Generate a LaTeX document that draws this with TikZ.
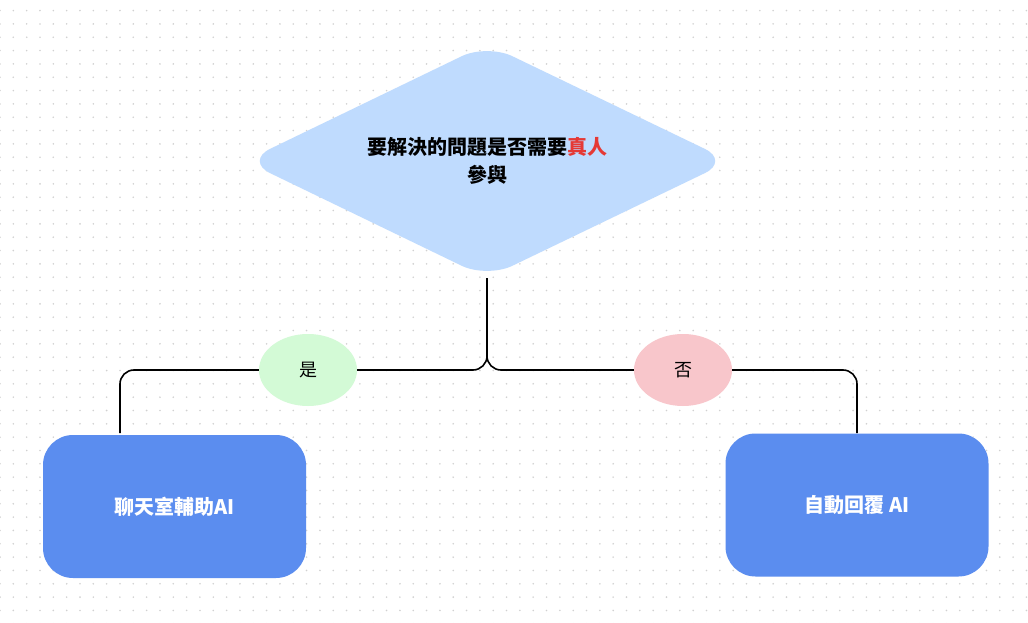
\documentclass[tikz,border=0pt]{standalone}
\usepackage{fontspec}
\newfontfamily\cjk{Noto Sans CJK TC}
\usetikzlibrary{shapes.geometric}
\definecolor{dia}{HTML}{BFDBFE}
\definecolor{boxc}{HTML}{5B8DEF}
\definecolor{yes}{HTML}{D3FAD6}
\definecolor{no}{HTML}{F8C6CB}
\definecolor{redt}{HTML}{E53935}
\tikzset{
 lbl/.style={ellipse,minimum width=98pt,minimum height=72pt,inner sep=0pt,font=\cjk\fontsize{18}{20}\selectfont},
 ai/.style={draw=none,fill=boxc,rounded corners=30pt,minimum width=263pt,minimum height=143pt,text=white,font=\cjk\bfseries\fontsize{20}{24}\selectfont},
 conn/.style={line width=1.6pt,rounded corners=14pt}
}
\begin{document}
\begin{tikzpicture}[x=1pt,y=-1pt]
\useasboundingbox (0,0) rectangle (1028,623);
\fill[white] (0,0) rectangle (1028,623);
\foreach \i in {0,...,77}{\foreach \j in {0,...,46}{
 \fill[black!18] ({\i*13.33},{10.6+\j*13.33}) circle (0.9pt);}}
\fill[dia,rounded corners=28pt] (245,161) -- (487,44) -- (730,161) -- (487,278) -- cycle;
\node[inner sep=0pt,align=center,font=\cjk\bfseries\fontsize{20}{28}\selectfont] (q) at (487,161) {要解決的問題是否需要\textcolor{redt}{真人}\\參與};
\coordinate (qb) at (487,278);
\node[ai] (l) at (174.5,506.5) {聊天室輔助AI};
\node[ai] (r) at (857,505) {自動回覆 AI};
\draw[conn] (qb) -- (487,370) -| (120,433);
\draw[conn] (qb) -- (487,370) -| (857,433);
\node[lbl,fill=yes] (y) at (308,370) {是};
\node[lbl,fill=no] (n) at (683,370) {否};
\end{tikzpicture}
\end{document}
